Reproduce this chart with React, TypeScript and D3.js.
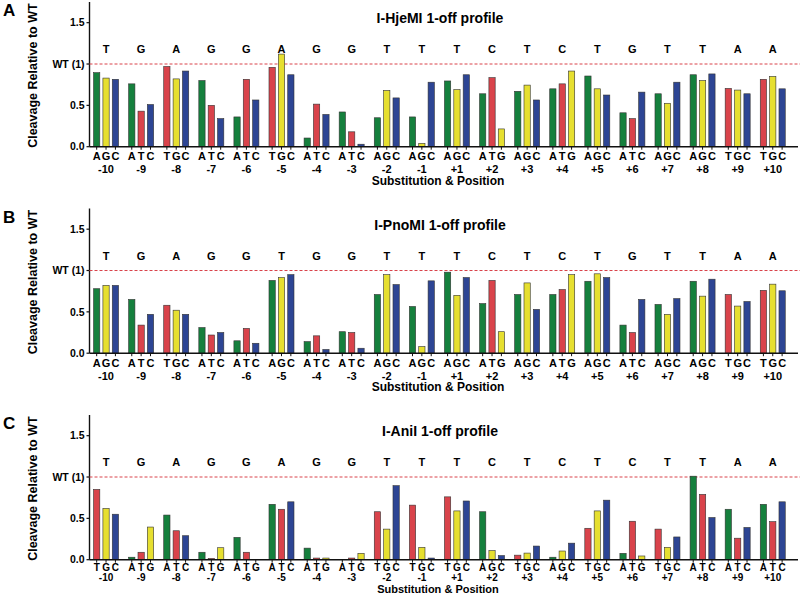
import * as d3 from "d3";

const positions = [
  "-10", "-9", "-8", "-7", "-6", "-5", "-4", "-3", "-2", "-1",
  "+1", "+2", "+3", "+4", "+5", "+6", "+7", "+8", "+9", "+10",
];

const titles = ["I-HjeMI 1-off profile", "I-PnoMI 1-off profile", "I-AniI 1-off profile"];
const panelLetters = ["A", "B", "C"];

const seqA = ["T", "G", "A", "G", "G", "A", "G", "G", "T", "T", "T", "C", "T", "C", "T", "G", "T", "T", "A", "A"];
const seqB = ["T", "G", "A", "G", "G", "T", "G", "G", "T", "T", "T", "C", "T", "C", "T", "G", "T", "T", "A", "A"];
const seqC = ["T", "G", "A", "G", "G", "A", "G", "G", "T", "T", "T", "C", "T", "C", "T", "C", "T", "T", "A", "A"];

const subsA = ["AGC", "ATC", "TGC", "ATC", "ATC", "TGC", "ATC", "ATC", "AGC", "AGC", "AGC", "ATG", "AGC", "ATG", "AGC", "ATC", "AGC", "AGC", "TGC", "TGC"];
const subsB = ["AGC", "ATC", "TGC", "ATC", "ATC", "AGC", "ATC", "ATC", "AGC", "AGC", "AGC", "ATG", "AGC", "ATG", "AGC", "ATC", "AGC", "AGC", "TGC", "TGC"];
const subsC = ["TGC", "ATG", "ATC", "ATG", "ATG", "ATC", "ATG", "ATG", "TGC", "TGC", "TGC", "AGC", "TGC", "AGC", "TGC", "ATG", "TGC", "ATC", "ATC", "ATC"];

const valuesA = [
  [0.895, 0.83, 0.815], [0.76, 0.43, 0.51], [0.97, 0.82, 0.915], [0.8, 0.5, 0.34], [0.36, 0.815, 0.565],
  [0.96, 1.12, 0.87], [0.105, 0.515, 0.39], [0.42, 0.18, 0.03], [0.35, 0.68, 0.59], [0.36, 0.04, 0.78],
  [0.795, 0.69, 0.87], [0.64, 0.835, 0.215], [0.67, 0.745, 0.565], [0.7, 0.76, 0.915], [0.855, 0.7, 0.625],
  [0.41, 0.34, 0.66], [0.64, 0.525, 0.78], [0.87, 0.8, 0.88], [0.705, 0.685, 0.64], [0.815, 0.85, 0.7],
];
const valuesB = [
  [0.78, 0.82, 0.82], [0.65, 0.34, 0.47], [0.58, 0.52, 0.47], [0.31, 0.22, 0.25], [0.15, 0.3, 0.12],
  [0.88, 0.915, 0.95], [0.14, 0.21, 0.045], [0.26, 0.25, 0.06], [0.71, 0.95, 0.83], [0.565, 0.08, 0.875],
  [0.98, 0.7, 0.915], [0.6, 0.88, 0.26], [0.71, 0.85, 0.53], [0.71, 0.77, 0.95], [0.87, 0.96, 0.915],
  [0.34, 0.25, 0.65], [0.59, 0.47, 0.66], [0.87, 0.69, 0.895], [0.71, 0.57, 0.625], [0.76, 0.835, 0.755],
];
const valuesC = [
  [0.85, 0.62, 0.55], [0.03, 0.09, 0.395], [0.54, 0.35, 0.29], [0.09, 0.015, 0.145], [0.27, 0.09, 0],
  [0.67, 0.61, 0.7], [0.14, 0.02, 0.02], [0, 0.02, 0.077], [0.58, 0.37, 0.895], [0.66, 0.15, 0.02],
  [0.76, 0.59, 0.71], [0.58, 0.11, 0.05], [0.055, 0.08, 0.165], [0.03, 0.105, 0.2], [0.38, 0.59, 0.72],
  [0.077, 0.465, 0.045], [0.37, 0.15, 0.275], [1.01, 0.79, 0.51], [0.61, 0.26, 0.39], [0.67, 0.46, 0.7],
];

const yTicks = [0, 0.5, 1, 1.5];

const baseColor: Record<string, string> = {
  A: "#15803d",
  T: "#d9434b",
  G: "#e6df30",
  C: "#2d4594",
};

const FONT = "'Liberation Sans', Arial, Helvetica, sans-serif";

type PanelProps = {
  offsetY: number;
  letter: string;
  title: string;
  seq: string[];
  subs: string[];
  values: number[][];
  tight?: boolean;
};

function Panel({ offsetY, letter, title, seq, subs, values, tight }: PanelProps) {
  const axisX = 89.5;
  const y = d3.scaleLinear().domain([0, 1.75]).range([146.7, 2]);
  const x = d3.scaleBand<string>().domain(positions).range([88.5, 790.3]).padding(0);
  const inner = d3.scaleBand<number>().domain([0, 1, 2]).range([-12.5, 12.5]).paddingInner(0.33).paddingOuter(0);
  const center = (p: string) => (x(p) ?? 0) + x.bandwidth() / 2;
  // the last panel sits against the bottom edge, so its labels are packed closer
  const subY = tight ? 11 : 13.5;
  const posY = tight ? 21.5 : 26.5;
  const xTitleY = tight ? 33 : 38;
  const labelSize = tight ? 10 : 11;

  return (
    <g transform={`translate(0,${offsetY})`} fontFamily={FONT}>
      <text x={3} y={16} fontSize={17} fontWeight="bold">{letter}</text>
      <text
        transform={`translate(37,${y(0.86)}) rotate(-90)`}
        textAnchor="middle"
        fontSize={12.5}
        fontWeight="bold"
      >
        Cleavage Relative to WT
      </text>
      <text x={440} y={23} textAnchor="middle" fontSize={14} fontWeight="bold">{title}</text>

      {/* y axis */}
      <line x1={axisX} x2={axisX} y1={y(1.75)} y2={y(0)} stroke="#111" strokeWidth={1.4} />
      {yTicks.map((t) => (
        <g key={t} transform={`translate(0,${y(t)})`}>
          <line x1={axisX - 3} x2={axisX} stroke="#111" strokeWidth={1.2} />
          <text x={axisX - 5} dy="0.35em" textAnchor="end" fontSize={10.5} fontWeight="bold">
            {t === 1 ? "WT (1)" : d3.format(".1f")(t)}
          </text>
        </g>
      ))}

      <line x1={axisX} x2={800} y1={y(1)} y2={y(1)} stroke="#d9434b" strokeWidth={1} strokeDasharray="3,2" />

      {positions.map((p, i) => (
        <g key={p}>
          <text x={center(p)} y={y(1.18) + 4} textAnchor="middle" fontSize={11} fontWeight="bold">
            {seq[i]}
          </text>
          {values[i].map((v, j) => {
            const b = subs[i][j];
            const bx = center(p) + (inner(j) ?? 0);
            return (
              <g key={j}>
                {v > 0 && (
                  <rect
                    x={bx}
                    y={y(v)}
                    width={inner.bandwidth()}
                    height={y(0) - y(v)}
                    fill={baseColor[b]}
                    stroke="#333"
                    strokeWidth={0.6}
                  />
                )}
                <line
                  x1={bx + inner.bandwidth() / 2}
                  x2={bx + inner.bandwidth() / 2}
                  y1={y(0)}
                  y2={y(0) + 3}
                  stroke="#111"
                  strokeWidth={1}
                />
                <text
                  x={bx + inner.bandwidth() / 2}
                  y={y(0) + subY}
                  textAnchor="middle"
                  fontSize={labelSize}
                  fontWeight="bold"
                >
                  {b}
                </text>
              </g>
            );
          })}
          <text x={center(p)} y={y(0) + posY} textAnchor="middle" fontSize={labelSize} fontWeight="bold">
            {p}
          </text>
        </g>
      ))}

      <line x1={axisX} x2={798} y1={y(0)} y2={y(0)} stroke="#111" strokeWidth={1.4} />

      <text x={438} y={y(0) + xTitleY} textAnchor="middle" fontSize={tight ? 11 : 12} fontWeight="bold">
        Substitution &amp; Position
      </text>
    </g>
  );
}

export default function App() {
  const panels = [
    { seq: seqA, subs: subsA, values: valuesA },
    { seq: seqB, subs: subsB, values: valuesB },
    { seq: seqC, subs: subsC, values: valuesC },
  ];
  return (
    <div style={{ position: "absolute", left: 0, top: 0 }}>
      <svg width={800} height={596} style={{ display: "block", background: "#fff" }}>
        {panels.map((d, i) => (
          <Panel
            key={i}
            offsetY={i * 206.5}
            letter={panelLetters[i]}
            title={titles[i]}
            seq={d.seq}
            subs={d.subs}
            values={d.values}
            tight={i === 2}
          />
        ))}
      </svg>
    </div>
  );
}
